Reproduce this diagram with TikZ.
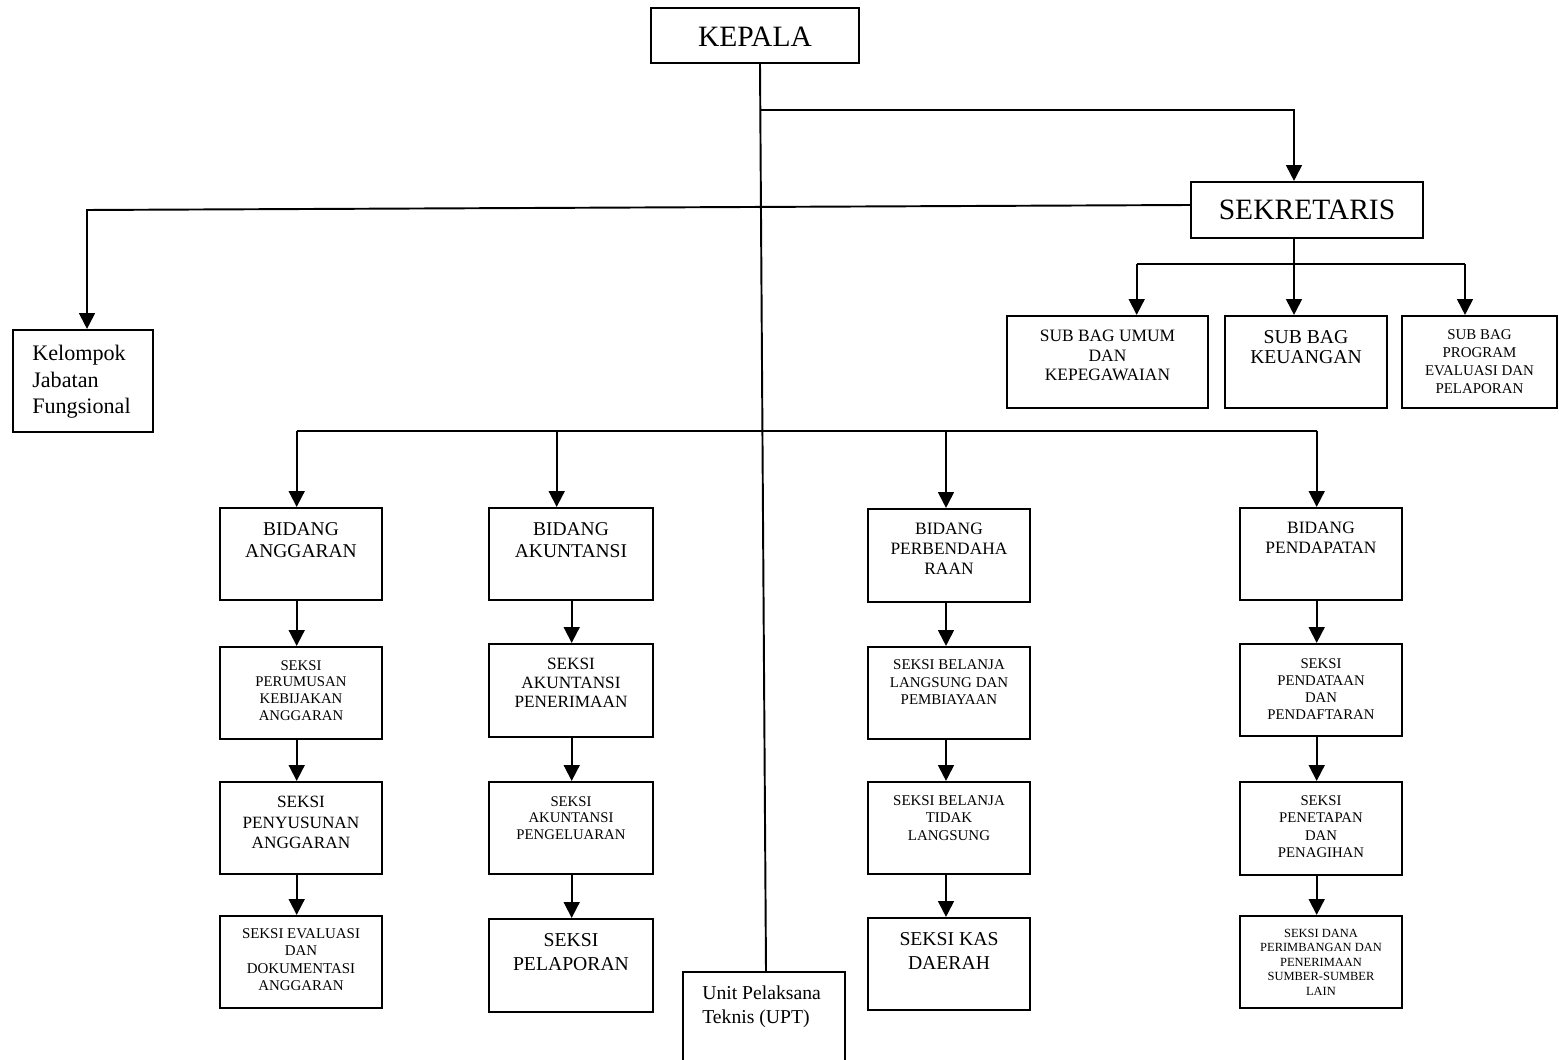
\documentclass[tikz,border=0pt]{standalone}
\usepackage{fontspec}
\setmainfont{Liberation Serif}
\usetikzlibrary{positioning,fit,arrows.meta}

\begin{document}
\begin{tikzpicture}[x=0.02cm, y=-0.02cm,
  box/.style={draw, line width=1.2pt, inner sep=0pt},
  lbl/.style={align=center, inner sep=0pt},
  fs/.style 2 args={font=\fontsize{#1}{#2}\selectfont},
  link/.style={line width=1.1pt},
  arr/.style={line width=1.1pt, arrows=-{Triangle[length=9pt, width=9pt]}}]
\useasboundingbox (0,0) rectangle (1559,1060);

% top
\node[box, fit={(651,8) (859,63)}] (kepala) {};
\node[lbl, fs={16.8}{18}, yshift=-0.03cm] (tkepala) at (kepala.center) {KEPALA};
\node[box, fit={(1191,182) (1423,238)}] (sek) {};
\node[lbl, fs={16.8}{18}] (tsek) at (sek.center) {SEKRETARIS};
\node[box, fit={(13,330) (153,432)}] (kel) {};
\node[lbl, align=left, fs={12.6}{15.1}, below right=0.32cm and 0.4cm of kel.north west] (tkel) {Kelompok\\Jabatan\\Fungsional};

% sub bagian
\node[box, fit={(1007,316) (1208,408)}] (sbu) {};
\node[lbl, fs={9.9}{11.1}, below=0.3cm of sbu.north] (tsbu) {SUB BAG UMUM\\DAN\\KEPEGAWAIAN};
\node[box, fit={(1225,316) (1387,408)}] (sbk) {};
\node[lbl, fs={11.2}{11.7}, below=0.3cm of sbk.north] (tsbk) {SUB BAG\\KEUANGAN};
\node[box, fit={(1402,316) (1557,408)}] (sbp) {};
\node[lbl, fs={8.5}{10.2}, below=0.29cm of sbp.north] (tsbp) {SUB BAG\\PROGRAM\\EVALUASI DAN\\PELAPORAN};

% bidang
\node[box, fit={(220,508) (382,600)}] (bang) {};
\node[lbl, fs={11.1}{12.6}, below=0.31cm of bang.north] (tbang) {BIDANG\\ANGGARAN};
\node[box, fit={(489,508) (653,600)}] (bakt) {};
\node[lbl, fs={11.1}{12.6}, below=0.31cm of bakt.north] (tbakt) {BIDANG\\AKUNTANSI};
\node[box, fit={(868,509) (1030,602)}] (bben) {};
\node[lbl, fs={9.9}{11.5}, below=0.29cm of bben.north] (tbben) {BIDANG\\PERBENDAHA\\RAAN};
\node[box, fit={(1240,508) (1402,600)}] (bpen) {};
\node[lbl, fs={9.9}{11.7}, below=0.29cm of bpen.north] (tbpen) {BIDANG\\PENDAPATAN};

% seksi anggaran
\node[box, fit={(220,647) (382,739)}] (s11) {};
\node[lbl, fs={8.4}{9.6}, below=0.28cm of s11.north] (ts11) {SEKSI\\PERUMUSAN\\KEBIJAKAN\\ANGGARAN};
\node[box, fit={(220,782) (382,874)}] (s12) {};
\node[lbl, fs={9.8}{11.7}, below=0.3cm of s12.north] (ts12) {SEKSI\\PENYUSUNAN\\ANGGARAN};
\node[box, fit={(220,916) (382,1008)}] (s13) {};
\node[lbl, fs={8.5}{9.8}, below=0.27cm of s13.north] (ts13) {SEKSI EVALUASI\\DAN\\DOKUMENTASI\\ANGGARAN};

% seksi akuntansi
\node[box, fit={(489,644) (653,737)}] (s21) {};
\node[lbl, fs={9.8}{10.9}, below=0.3cm of s21.north] (ts21) {SEKSI\\AKUNTANSI\\PENERIMAAN};
\node[box, fit={(489,782) (653,874)}] (s22) {};
\node[lbl, fs={8.4}{9.6}, below=0.3cm of s22.north] (ts22) {SEKSI\\AKUNTANSI\\PENGELUARAN};
\node[box, fit={(489,919) (653,1012)}] (s23) {};
\node[lbl, fs={11.2}{13.2}, below=0.31cm of s23.north] (ts23) {SEKSI\\PELAPORAN};

% seksi perbendaharaan
\node[box, fit={(868,647) (1030,739)}] (s31) {};
\node[lbl, fs={8.5}{10}, below=0.27cm of s31.north] (ts31) {SEKSI BELANJA\\LANGSUNG DAN\\PEMBIAYAAN};
\node[box, fit={(868,782) (1030,874)}] (s32) {};
\node[lbl, fs={8.5}{10}, below=0.28cm of s32.north] (ts32) {SEKSI BELANJA\\TIDAK\\LANGSUNG};
\node[box, fit={(868,918) (1030,1010)}] (s33) {};
\node[lbl, fs={11.2}{13.6}, below=0.31cm of s33.north] (ts33) {SEKSI KAS\\DAERAH};

% seksi pendapatan
\node[box, fit={(1240,644) (1402,736)}] (s41) {};
\node[lbl, fs={8.4}{9.7}, below=0.3cm of s41.north] (ts41) {SEKSI\\PENDATAAN\\DAN\\PENDAFTARAN};
\node[box, fit={(1240,782) (1402,875)}] (s42) {};
\node[lbl, fs={8.4}{9.8}, below=0.29cm of s42.north] (ts42) {SEKSI\\PENETAPAN\\DAN\\PENAGIHAN};
\node[box, fit={(1240,916) (1402,1008)}] (s43) {};
\node[lbl, fs={7.1}{8.3}, below=0.27cm of s43.north] (ts43) {SEKSI DANA\\PERIMBANGAN DAN\\PENERIMAAN\\SUMBER-SUMBER\\LAIN};

% upt
\node[box, fit={(683,972) (845,1080)}] (upt) {};
\node[lbl, align=left, fs={11.2}{13.2}, below right=0.3cm and 0.4cm of upt.north west] (tupt) {Unit Pelaksana\\Teknis (UPT)};

% junctions
\coordinate (kb) at (760.3,110);
\coordinate (kt) at (87,210);
\coordinate (sl) at (1136.7,264);
\coordinate (sm) at (1294,264);
\coordinate (sr) at (1465,264);
\coordinate (b1) at (296.7,431);
\coordinate (b2) at (556.7,431);
\coordinate (b3) at (946,431);
\coordinate (b4) at (1316.7,431);
\coordinate (ax2) at (571.7,431);

% lines
\draw[link] ([xshift=0.1cm]kepala.south) -- ([xshift=0.04cm]upt.north);
\draw[arr] (kb) -| (sek.north -| sm);
\draw[arr] ([yshift=0.1cm]sek.west) -- (kt) -- (kt |- kel.north);
\draw[link] (sek.south -| sm) -- (sm);
\draw[link] (sl) -- (sr);
\draw[arr] (sl) -- (sl |- sbu.north);
\draw[arr] (sm) -- (sm |- sbk.north);
\draw[arr] (sr) -- (sr |- sbp.north);
\draw[link] (b1) -- (b4);
\draw[arr] (b1) -- (b1 |- bang.north);
\draw[arr] (b2) -- (b2 |- bakt.north);
\draw[arr] (b3) -- (b3 |- bben.north);
\draw[arr] (b4) -- (b4 |- bpen.north);
\foreach \c/\a/\b in {b1/bang/s11, b1/s11/s12, b1/s12/s13, ax2/bakt/s21, ax2/s21/s22, ax2/s22/s23,
  b3/bben/s31, b3/s31/s32, b3/s32/s33, b4/bpen/s41, b4/s41/s42, b4/s42/s43}
  \draw[arr] (\a.south -| \c) -- (\b.north -| \c);
\end{tikzpicture}
\end{document}
